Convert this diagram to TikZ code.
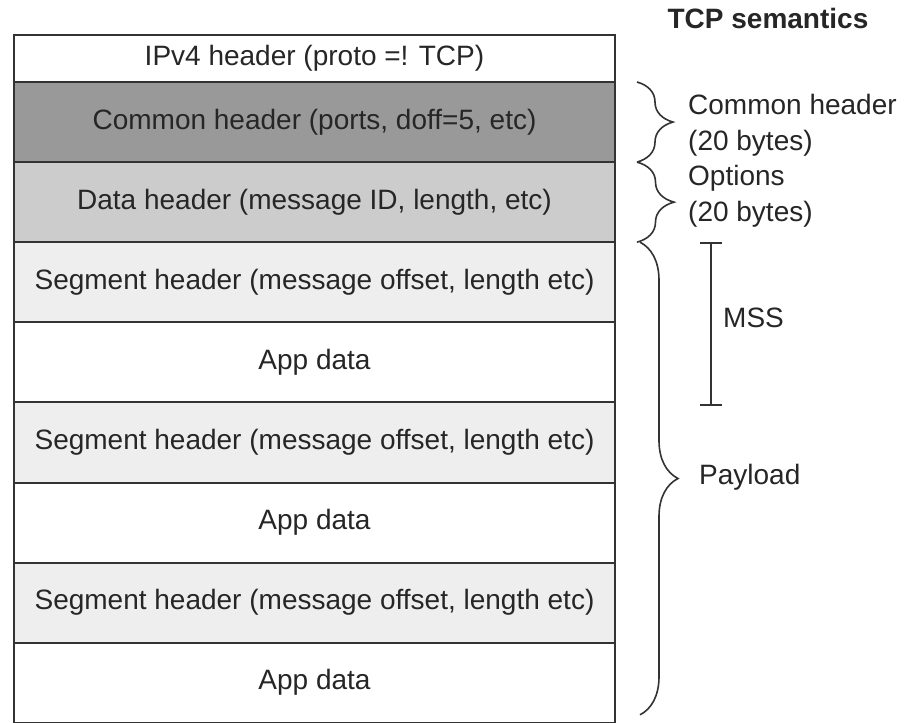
\documentclass[tikz,border=0pt]{standalone}
\usepackage{fontspec}
\setmainfont{Liberation Sans}
\usetikzlibrary{decorations.pathreplacing}
\definecolor{lineC}{HTML}{333333}
\definecolor{textC}{HTML}{262626}
\definecolor{darkF}{HTML}{999999}
\definecolor{midF}{HTML}{CCCCCC}
\definecolor{lightF}{HTML}{EEEEEE}
\begin{document}
\begin{tikzpicture}[x=1pt,y=-1pt,
  font=\fontsize{28}{36}\selectfont,
  rowbox/.style={draw=lineC, line width=2pt, minimum width=601pt, minimum height=80.1pt,
    inner sep=0pt, outer sep=0pt, text=textC, anchor=north west},
  seghdr/.style={rowbox, fill=lightF},
  appdata/.style={rowbox, fill=white},
  lbl/.style={text=textC, anchor=west, align=left, inner sep=0pt},
  bracestyle/.style={draw=lineC, line width=1.6pt, decorate},
  barline/.style={draw=lineC, line width=1.6pt}]
\useasboundingbox (0,0) rectangle (911,723);
\fill[white] (0,0) rectangle (911,723);
% rows
\node[rowbox, fill=white, minimum height=47pt] (ip) at (14,35) {IPv4 header (proto =! TCP)};
\node[rowbox, fill=darkF] (ch) at (14,82) {Common header (ports, doff=5, etc)};
\node[rowbox, fill=midF] (dh) at (14,162.1) {Data header (message ID, length, etc)};
\node[seghdr] (s1) at (14,242.2) {Segment header (message offset, length etc)};
\node[appdata] (a1) at (14,322.3) {App data};
\node[seghdr] (s2) at (14,402.4) {Segment header (message offset, length etc)};
\node[appdata] (a2) at (14,482.5) {App data};
\node[seghdr] (s3) at (14,562.6) {Segment header (message offset, length etc)};
\node[appdata] (a3) at (14,642.7) {App data};
% title
\node[text=textC, font=\fontsize{28}{34}\selectfont\bfseries] (title) at (768,18) {TCP semantics};
% braces
\coordinate (b1t) at ([xshift=22pt]ch.north east);
\coordinate (b1b) at ([xshift=22pt]ch.south east);
\coordinate (b2b) at ([xshift=22pt]dh.south east);
\coordinate (b3t) at ([xshift=25pt]s1.north east);
\coordinate (b3b) at ([xshift=25pt,yshift=8pt]a3.south east);
\draw[bracestyle, decoration={brace, amplitude=36pt}] (b1t) -- (b1b);
\draw[bracestyle, decoration={brace, amplitude=37pt}] (b1b) -- (b2b);
\draw[bracestyle, decoration={brace, amplitude=38pt}] (b3t) -- (b3b);
% labels
\node[lbl] (lch) at (688,125) {Common header\\(20 bytes)};
\node[lbl] (lop) at (688,196) {Options\\(20 bytes)};
\node[lbl] (lpl) at (699,477) {Payload};
% MSS bar
\coordinate (mt) at (711,243);
\coordinate (mb) at (711,405);
\draw[barline] (mt) -- (mb);
\draw[barline] ([xshift=-11pt]mt) -- ([xshift=11pt]mt);
\draw[barline] ([xshift=-11pt]mb) -- ([xshift=11pt]mb);
\node[lbl] (lmss) at (723,318) {MSS};
\end{tikzpicture}
\end{document}
